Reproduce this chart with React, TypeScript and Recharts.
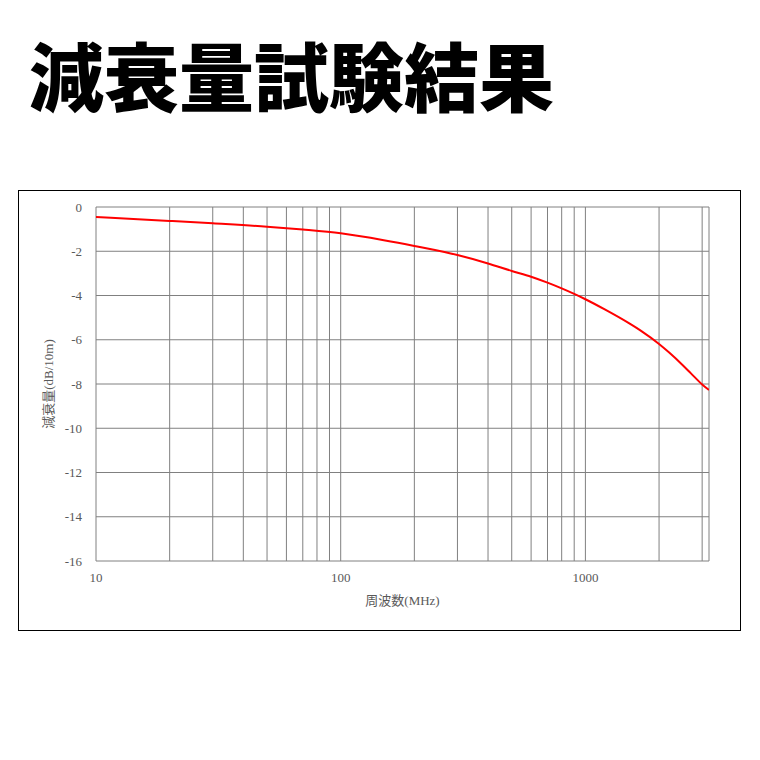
import React from "react";
import {
  LineChart,
  Line,
  XAxis,
  YAxis,
  CartesianGrid,
  Label,
} from "recharts";

const titleText = "減衰量試験結果";
const xAxisTitle = "周波数(MHz)";
const yAxisTitle = "減衰量(dB/10m)";

const frequencies = [10, 20, 30, 50, 70, 100, 150, 200, 300, 400, 500, 600, 700, 800, 900, 1000, 1200, 1500, 1700, 2000, 2200, 2500, 2700, 3000, 3200];
const attenuation = [-0.45, -0.63, -0.74, -0.89, -1.02, -1.19, -1.5, -1.76, -2.17, -2.55, -2.89, -3.15, -3.42, -3.68, -3.93, -4.17, -4.63, -5.24, -5.62, -6.19, -6.58, -7.15, -7.52, -8.02, -8.27];

const xGridTicks = [10, 20, 30, 40, 50, 60, 70, 80, 90, 100, 200, 300, 400, 500, 600, 700, 800, 900, 1000, 2000, 3000, 3200];
const xLabelTicks = [10, 100, 1000];
const yTicks = [0, -2, -4, -6, -8, -10, -12, -14, -16];

const data = frequencies.map((f, i) => ({ freq: f, value: attenuation[i] }));

const serif = "'Liberation Serif', 'DejaVu Serif', 'Noto Sans CJK JP', serif";

export default function App() {
  return (
    <div style={{ position: "relative", width: 744, height: 744 }}>
      <div
        style={{
          position: "absolute",
          left: 21,
          top: 28,
          fontFamily: "'Noto Sans CJK JP', sans-serif",
          fontWeight: 900,
          fontSize: 75,
          lineHeight: 1,
          color: "#000",
          whiteSpace: "nowrap",
        }}
      >
        {titleText}
      </div>
      <div
        style={{
          position: "absolute",
          left: 10,
          top: 182,
          width: 721,
          height: 439,
          border: "1px solid #000",
          background: "#fff",
        }}
      >
        <LineChart
          width={721}
          height={439}
          data={data}
          margin={{ top: 16, right: 31, bottom: 39, left: 17 }}
        >
          <CartesianGrid stroke="#808080" strokeWidth={1} />
          <XAxis
            dataKey="freq"
            type="number"
            scale="log"
            domain={[10, 3200]}
            ticks={xGridTicks}
            interval={0}
            allowDataOverflow
            height={30}
            axisLine={false}
            tickLine={false}
            tickFormatter={(v: number) => (xLabelTicks.includes(v) ? String(v) : "")}
            tick={{ fill: "#595959", fontSize: 13, fontFamily: serif }}
            dy={4}
          >
            <Label
              value={xAxisTitle}
              position="bottom"
              offset={5}
              style={{ fill: "#595959", fontSize: 13, fontFamily: serif }}
            />
          </XAxis>
          <YAxis
            type="number"
            domain={[-16, 0]}
            ticks={yTicks}
            interval={0}
            width={60}
            axisLine={false}
            tickLine={false}
            tick={{ fill: "#595959", fontSize: 13, fontFamily: serif }}
            dx={-6}
          >
            <Label
              value={yAxisTitle}
              angle={-90}
              position="insideLeft"
              offset={12}
              style={{ fill: "#595959", fontSize: 13, fontFamily: serif, textAnchor: "middle" }}
            />
          </YAxis>
          <Line
            type="monotone"
            dataKey="value"
            stroke="#ff0000"
            strokeWidth={2}
            dot={false}
            isAnimationActive={false}
          />
        </LineChart>
      </div>
    </div>
  );
}
